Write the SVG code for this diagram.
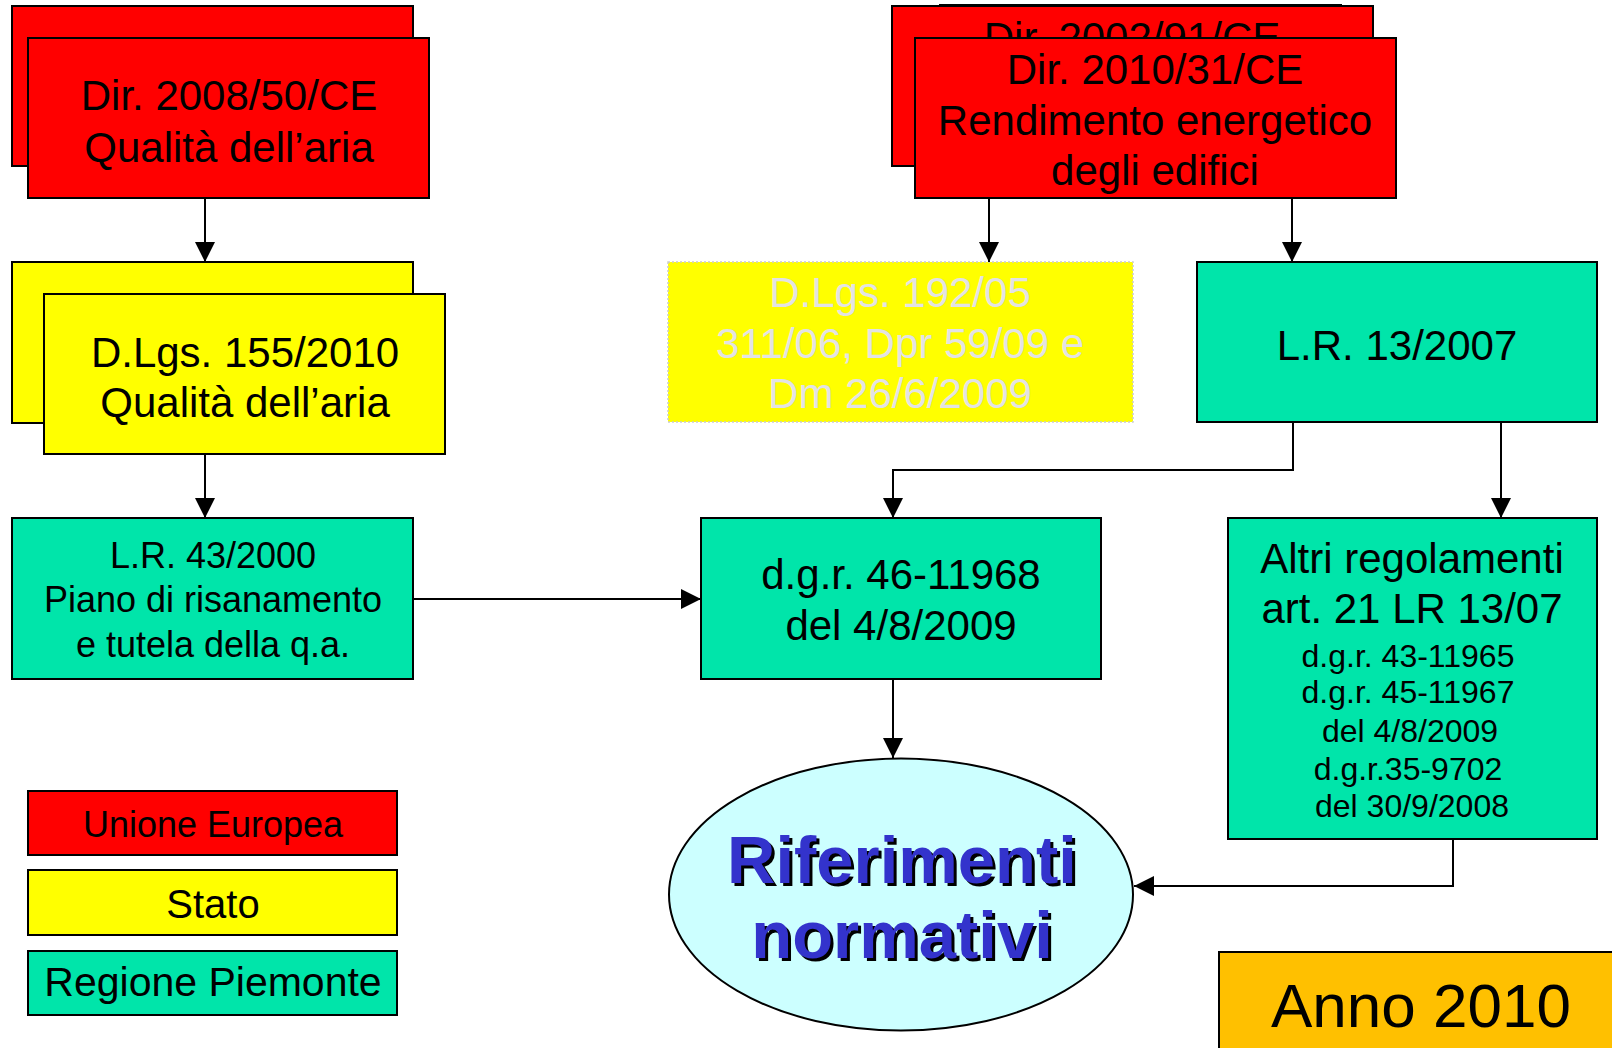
<svg xmlns="http://www.w3.org/2000/svg" width="1612" height="1048" viewBox="0 0 1612 1048">
<style>
  .box { stroke: #000; stroke-width: 2; }
  .red { fill: #ff0000; }
  .yel { fill: #ffff00; }
  .grn { fill: #00e5aa; }
  .t { font-family: "Liberation Sans", Arial, sans-serif; fill: #000; text-anchor: middle; }
  .conn { fill: none; stroke: #000; stroke-width: 2; }
</style>
<defs>
  <marker id="arr" markerUnits="userSpaceOnUse" markerWidth="20" markerHeight="20" refX="20" refY="10" orient="auto" viewBox="0 0 20 20">
    <path d="M0,0 L20,10 L0,20 z" fill="#000"/>
  </marker>
  <clipPath id="backclip">
    <rect x="880" y="0" width="520" height="38"/>
  </clipPath>
</defs>
<rect width="1612" height="1048" fill="#fff"/>

<g id="dir2008">
  <rect class="box red" x="12" y="6" width="401" height="160"/>
  <rect class="box red" x="28" y="38" width="401" height="160"/>
  <text class="t" x="229" y="110" font-size="42">Dir. 2008/50/CE</text>
  <text class="t" x="229" y="162" font-size="42">Qualità dell’aria</text>
</g>

<g id="dir2002">
  <rect class="box red" x="940" y="5" width="401" height="150"/>
  <rect class="box red" x="892" y="6" width="481" height="160"/>
  <text class="t" x="1132" y="52" font-size="42" clip-path="url(#backclip)">Dir. 2002/91/CE</text>
</g>
<g id="dir2010">
  <rect class="box red" x="915" y="38" width="481" height="160"/>
  <text class="t" x="1155" y="84" font-size="42">Dir. 2010/31/CE</text>
  <text class="t" x="1155" y="135" font-size="42">Rendimento energetico</text>
  <text class="t" x="1155" y="185" font-size="42">degli edifici</text>
</g>

<g id="dlgs155">
  <rect class="box yel" x="12" y="262" width="401" height="161"/>
  <rect class="box yel" x="44" y="294" width="401" height="160"/>
  <text class="t" x="245" y="367" font-size="42">D.Lgs. 155/2010</text>
  <text class="t" x="245" y="417" font-size="42">Qualità dell’aria</text>
</g>

<g id="dlgs192">
  <rect x="668" y="262" width="465" height="160" fill="#ffff00" stroke="#cccccc" stroke-width="1.5" stroke-dasharray="2 2"/>
  <text class="t" x="900" y="307" font-size="42" style="fill:#e3e3e3">D.Lgs. 192/05</text>
  <text class="t" x="900" y="358" font-size="42" style="fill:#e3e3e3">311/06, Dpr 59/09 e</text>
  <text class="t" x="900" y="408" font-size="42" style="fill:#e3e3e3">Dm 26/6/2009</text>
</g>

<g id="lr13">
  <rect class="box grn" x="1197" y="262" width="400" height="160"/>
  <text class="t" x="1397" y="360" font-size="42">L.R. 13/2007</text>
</g>

<g id="lr43">
  <rect class="box grn" x="12" y="518" width="401" height="161"/>
  <text class="t" x="213" y="568" font-size="36">L.R. 43/2000</text>
  <text class="t" x="213" y="612" font-size="36">Piano di risanamento</text>
  <text class="t" x="213" y="657" font-size="36">e tutela della q.a.</text>
</g>

<g id="dgr46">
  <rect class="box grn" x="701" y="518" width="400" height="161"/>
  <text class="t" x="901" y="589" font-size="42">d.g.r. 46-11968</text>
  <text class="t" x="901" y="640" font-size="42">del 4/8/2009</text>
</g>

<g id="altri">
  <rect class="box grn" x="1228" y="518" width="369" height="321"/>
  <text class="t" x="1412" y="573" font-size="42">Altri regolamenti</text>
  <text class="t" x="1412" y="623" font-size="42">art. 21 LR 13/07</text>
  <text class="t" x="1408" y="667" font-size="32">d.g.r. 43-11965</text>
  <text class="t" x="1408" y="703" font-size="32">d.g.r. 45-11967</text>
  <text class="t" x="1410" y="742" font-size="32">del 4/8/2009</text>
  <text class="t" x="1408" y="780" font-size="32">d.g.r.35-9702</text>
  <text class="t" x="1412" y="817" font-size="32">del 30/9/2008</text>
</g>

<g id="riferimenti">
  <ellipse cx="901" cy="894.5" rx="232" ry="136" fill="#ccffff" stroke="#000" stroke-width="2"/>
  <text class="t" x="905" y="886" font-size="67" font-weight="bold" style="fill:#000">Riferimenti</text>
  <text class="t" x="902" y="883" font-size="67" font-weight="bold" style="fill:#3333cc">Riferimenti</text>
  <text class="t" x="905" y="961" font-size="67" font-weight="bold" style="fill:#000">normativi</text>
  <text class="t" x="902" y="958" font-size="67" font-weight="bold" style="fill:#3333cc">normativi</text>
</g>

<g id="legend-ue">
  <rect class="box red" x="28" y="791" width="369" height="64"/>
  <text class="t" x="213" y="837" font-size="36">Unione Europea</text>
</g>
<g id="legend-stato">
  <rect class="box yel" x="28" y="870" width="369" height="65"/>
  <text class="t" x="213" y="918" font-size="40">Stato</text>
</g>
<g id="legend-regione">
  <rect class="box grn" x="28" y="951" width="369" height="64"/>
  <text class="t" x="213" y="996" font-size="41">Regione Piemonte</text>
</g>

<g id="anno">
  <rect class="box" x="1219" y="952" width="400" height="100" fill="#ffc000"/>
  <text class="t" x="1421" y="1027" font-size="62">Anno 2010</text>
</g>

<g id="connectors">
  <path class="conn" d="M205,198 L205,262" marker-end="url(#arr)"/>
  <path class="conn" d="M205,454 L205,518" marker-end="url(#arr)"/>
  <path class="conn" d="M413,599 L701,599" marker-end="url(#arr)"/>
  <path class="conn" d="M989,198 L989,262" marker-end="url(#arr)"/>
  <path class="conn" d="M1292,198 L1292,262" marker-end="url(#arr)"/>
  <path class="conn" d="M1293,422 L1293,470 L893,470 L893,518" marker-end="url(#arr)"/>
  <path class="conn" d="M1501,422 L1501,518" marker-end="url(#arr)"/>
  <path class="conn" d="M893,679 L893,758" marker-end="url(#arr)"/>
  <path class="conn" d="M1453,839 L1453,886 L1134,886" marker-end="url(#arr)"/>
</g>
</svg>
